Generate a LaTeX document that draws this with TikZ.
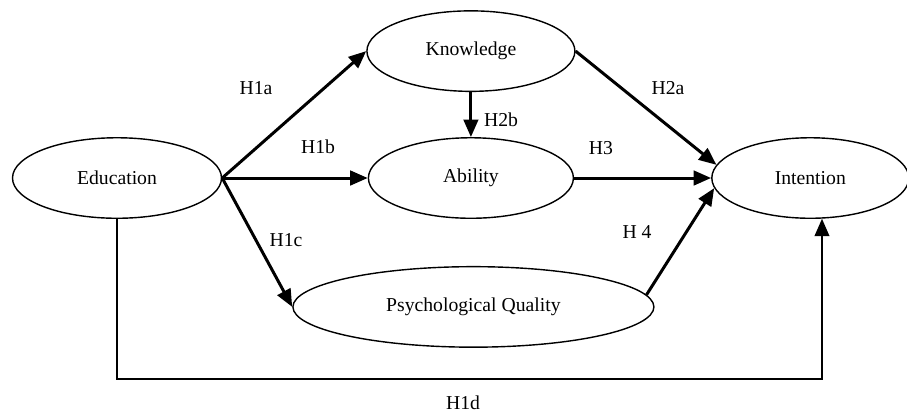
\documentclass[tikz,border=0pt]{standalone}
\usepackage{fontspec}
\setmainfont{Liberation Serif}
\usepackage{tikz}
\usetikzlibrary{arrows.meta,positioning,calc,shapes.geometric}

\begin{document}
\begin{tikzpicture}[>={Triangle[length=3.5mm,width=2.9mm]}, node distance=0.9cm, font=\fontsize{11.2}{13}\selectfont,
    construct/.style={draw, ellipse, line width=0.8pt, inner sep=0pt, minimum height=1.61cm},
    hyp/.style={->, line width=1.7pt},
    lbl/.style={inner sep=0pt}]
      \useasboundingbox (0,0) rectangle (18.14,-8.3);
      \node[construct, minimum width=4.18cm] (edu) at (2.34,-3.56) {Education};
      \node[construct, minimum width=4.1cm, right=2.91cm of edu] (abil) {Ability};
      \node[construct, minimum width=4.16cm, above=0.9cm of abil] (know) {Knowledge};
      \node[construct, minimum width=3.94cm, right=2.74cm of abil] (int) {Intention};
      \node[construct, minimum width=7.22cm, below=0.94cm of abil, xshift=0.05cm] (psych) {Psychological Quality};
      \draw[hyp] (edu.east)--(know.west);
      \draw[hyp] (edu.east)--(abil.west);
      \draw[hyp] (edu.east)--(psych.west);
      \draw[hyp] (know.south)--(abil.north);
      \draw[hyp] (know.east)--(int.172);
      \draw[hyp] (abil.east)--(int.west);
      \draw[hyp] (psych.4)--(int.186);
      \coordinate (turn) at ([yshift=-3.21cm]int.-74);
      \draw[hyp, line width=1.4pt] (edu.south) |- (turn) -- (int.-74);
      \node[lbl] (h1a) at (5.12,-1.76) {H1a};
      \node[lbl] (h1b) at (6.36,-2.94) {H1b};
      \node[lbl] (h1c) at (5.72,-4.8) {H1c};
      \node[lbl] (h1d) at (9.26,-8.06) {H1d};
      \node[lbl] (h2a) at (13.36,-1.76) {H2a};
      \node[lbl] (h2b) at (10.02,-2.4) {H2b};
      \node[lbl] (h3) at (12.02,-2.96) {H3};
      \node[lbl] (h4) at (12.74,-4.64) {H 4};
    \end{tikzpicture}
\end{document}
